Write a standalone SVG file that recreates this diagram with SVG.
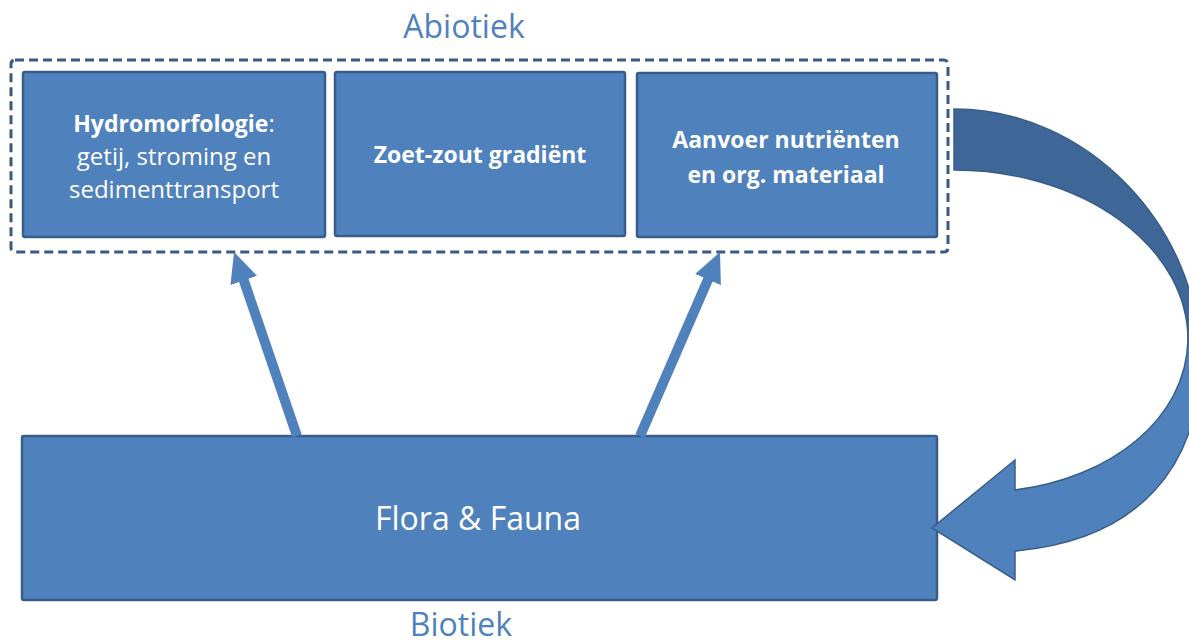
<svg xmlns="http://www.w3.org/2000/svg" width="1189" height="643" viewBox="0 0 1189 643">
<style>
.box{fill:#4F81BD;stroke:#385D8A;stroke-width:2.5}
.wt{fill:#FFFFFF;font-family:"Open Sans","DejaVu Sans",sans-serif;text-anchor:middle}
.b{font-weight:bold;font-size:23px}
.r{font-weight:normal;font-size:24px}
.lbl{fill:#4F81BD;font-family:"Open Sans","DejaVu Sans",sans-serif;font-size:32px;text-anchor:middle}
.conn{stroke:#4F81BD;stroke-width:10;fill:none}
</style>
<defs>
<marker id="ah" markerUnits="userSpaceOnUse" markerWidth="32" markerHeight="30" refX="15" refY="15" orient="auto">
<path d="M0,1 L30,15 L0,29 z" fill="#4F81BD"/>
</marker>
</defs>
<rect width="1189" height="643" fill="#FFFFFF"/>
<text class="lbl" x="464" y="38">Abiotiek</text>
<g id="abiotiek-group">
<rect x="11" y="60" width="937" height="192" rx="4" fill="none" stroke="#3B5A82" stroke-width="3" stroke-dasharray="9 5"/>
</g>
<g id="hydromorfologie">
<rect class="box" x="23" y="72" width="302" height="165" rx="2"/>
<text class="wt" x="174" y="132"><tspan class="b">Hydromorfologie</tspan><tspan class="r">:</tspan></text>
<text class="wt r" x="174" y="165">getij, stroming en</text>
<text class="wt r" x="174" y="198">sedimenttransport</text>
</g>
<g id="zoet-zout">
<rect class="box" x="335" y="72" width="290" height="164" rx="2"/>
<text class="wt b" x="480" y="163">Zoet-zout gradiënt</text>
</g>
<g id="aanvoer">
<rect class="box" x="637" y="73" width="300" height="164" rx="2"/>
<text class="wt b" x="786" y="148">Aanvoer nutriënten</text>
<text class="wt b" x="786" y="183">en org. materiaal</text>
</g>
<g id="flora-fauna">
<rect class="box" x="22" y="436" width="915" height="164" rx="2"/>
<text class="wt" x="478" y="530" style="font-size:32px">Flora &amp; Fauna</text>
</g>
<text class="lbl" x="461" y="636">Biotiek</text>
<g id="connectors">
<line class="conn" x1="297" y1="436" x2="238.9" y2="266.2" marker-end="url(#ah)"/>
<line class="conn" x1="640" y1="436" x2="714" y2="265.8" marker-end="url(#ah)"/>
<path d="M954,109 C1090,109 1200,230 1200,360 L1188,340 A234,170 0 0 0 954,170 Z" fill="#3E6697" stroke="#385D8A" stroke-width="1.5"/>
<path d="M1200,360 C1200,465 1140,540 1015,551 L1015,580 L932,528 L1015,460 L1015,490 C1110,478 1186,420 1188,340 Z" fill="#4F81BD" stroke="#385D8A" stroke-width="1.5"/>
</g>
</svg>
